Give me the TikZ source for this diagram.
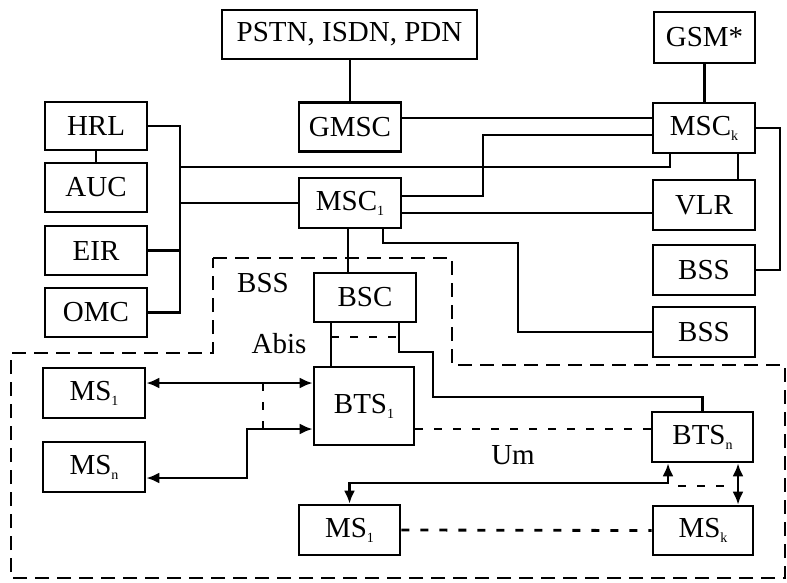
\documentclass[tikz,border=0pt]{standalone}
\usepackage{fontspec}
\setmainfont{Liberation Serif}
\usetikzlibrary{arrows.meta}
\newcommand{\lsub}[1]{\raisebox{-5pt}{\fontsize{14}{14}\selectfont #1}}
\begin{document}
\begin{tikzpicture}[x=1pt,y=-1pt,
  box/.style={draw,line width=2.8pt,minimum width=102pt,minimum height=49pt,inner sep=0pt,font=\fontsize{29}{31}\selectfont},
  lbl/.style={inner sep=0pt,font=\fontsize{29}{31}\selectfont},
  conn/.style={line width=2.3pt},
  dsh/.style={line width=2.8pt,dash pattern=on 8pt off 11pt},
  outl/.style={line width=2.4pt,dash pattern=on 14pt off 8pt},
  arr/.style={conn,{Latex[length=13pt,width=11pt]}-{Latex[length=13pt,width=11pt]}}]
\useasboundingbox (0,0) rectangle (787,582);

% nodes
\node[box,minimum width=255pt] (pstn) at (349.5,34.5) {PSTN, ISDN, PDN};
\node[box,minimum width=101pt,minimum height=51pt] (gsm) at (704.5,37.5) {GSM*};
\node[box] (gmsc) at (350,127) {GMSC};
\node[box,minimum height=50pt] (msck) at (704,128) {MSC\lsub{k}};
\node[box,minimum height=48pt] (hrl) at (96,126) {HRL};
\node[box] (auc) at (96,187.5) {AUC};
\node[box] (eir) at (96,250.5) {EIR};
\node[box] (omc) at (96,312.5) {OMC};
\node[box,minimum height=50pt] (msc1) at (350,203) {MSC\lsub{1}};
\node[box,minimum height=50pt] (vlr) at (704,205) {VLR};
\node[box,minimum height=50pt] (bssa) at (704,270) {BSS};
\node[box,minimum height=50pt] (bssb) at (704,332) {BSS};
\node[box] (bsc) at (365,297.5) {BSC};
\node[box,minimum width=100pt,minimum height=78pt] (bts1) at (364,406) {BTS\lsub{1}};
\node[box,minimum width=101pt,minimum height=50pt] (btsn) at (702.5,437) {BTS\lsub{n}};
\node[box,minimum width=100pt] (msk) at (703,530.5) {MS\lsub{k}};
\node[box,minimum width=101pt,minimum height=50pt] (ms1b) at (349.5,530) {MS\lsub{1}};
\node[box,minimum height=50pt] (ms1) at (94,393) {MS\lsub{1}};
\node[box,minimum height=50pt] (msn) at (94,467) {MS\lsub{n}};

\node[lbl] (bsslbl) at (263,283) {BSS};
\node[lbl] (abis) at (279,344) {Abis};
\node[lbl] (um) at (513,455) {Um};

% coordinates
\coordinate (busB) at (180,312.5);
\coordinate (l1) at (180,167);
\coordinate (j1) at (483,135);
\coordinate (r1) at (780,270);
\coordinate (j2) at (518,243);
\coordinate (abL) at (331,0);
\coordinate (k0) at (399,0);
\coordinate (k1) at (433,352);
\coordinate (k2) at (702.5,397);
\coordinate (d1) at (331,337);
\coordinate (d2) at (399,337);
\coordinate (u1) at (668,483);
\coordinate (s1) at (678,486);
\coordinate (s2) at (727,486);
\coordinate (m1) at (247,429);
\coordinate (v1) at (263,383);
\coordinate (v2) at (263,429);

% solid connectors
\draw[conn] (gmsc.north) -- (gmsc.north |- pstn.south);
\draw[conn] (gsm.south) -- (gsm.south |- msck.north);
\draw[conn] (hrl.south) -- (auc.north);
\draw[conn] (hrl.east) -| (busB) -- (omc.east);
\draw[conn] (eir.east) -- (eir.east -| busB);
\draw[conn] (l1) -| ([xshift=-34pt]msck.south);
\draw[conn] (msc1.west) -- (msc1.west -| busB);
\draw[conn] ([yshift=9pt]gmsc.east) -- ([yshift=9pt]gmsc.east -| msck.west);
\draw[conn] ([yshift=7pt]msc1.east) -| (j1) -- (j1 -| msck.west);
\draw[conn] ([yshift=-10pt]msc1.east) -- ([yshift=-10pt]msc1.east -| vlr.west);
\draw[conn] ([xshift=34pt]msck.south) -- ([xshift=34pt]msck.south |- vlr.north);
\draw[conn] (msck.east) -| (r1) -- (bssa.east);
\draw[conn] ([xshift=33pt]msc1.south) |- (j2) |- (bssb.west);
\draw[conn] ([xshift=-2pt]msc1.south) -- ([xshift=-2pt]msc1.south |- bsc.north);
\draw[conn] (bsc.south -| abL) -- (bts1.north -| abL);
\draw[conn] (bsc.south -| k0) |- (k1) |- (k2) -- (btsn.north);

% dashed connectors
\draw[dsh] (d1) -- (d2);
\draw[dsh] ([yshift=-23pt]bts1.east) -- ([yshift=-23pt]bts1.east -| btsn.west);
\draw[dsh] (ms1b.east) -- (msk.west);
\draw[dsh] (s1) -- (s2);
\draw[dsh] (v1) -- (v2);

% arrows
\draw[arr] (ms1b.north) |- (u1) -- (u1 |- btsn.south);
\draw[arr] ([xshift=35.5pt]btsn.south) -- ([xshift=35.5pt]btsn.south |- msk.north);
\draw[arr] ([yshift=10pt]ms1.east) -- ([yshift=10pt]ms1.east -| bts1.west);
\draw[arr] ([yshift=-11pt]msn.east) -| (m1) -- (m1 -| bts1.west);

% BSS outline
\coordinate (o1) at (213,258);
\coordinate (o2) at (452,258);
\coordinate (o3) at (452,365);
\coordinate (o4) at (785,365);
\coordinate (o5) at (785,578);
\coordinate (o6) at (11,578);
\coordinate (o7) at (11,353);
\coordinate (o8) at (213,353);
\draw[outl] (o1) -- (o2) -- (o3) -- (o4) -- (o5) -- (o6) -- (o7) -- (o8) -- cycle;
\end{tikzpicture}
\end{document}
